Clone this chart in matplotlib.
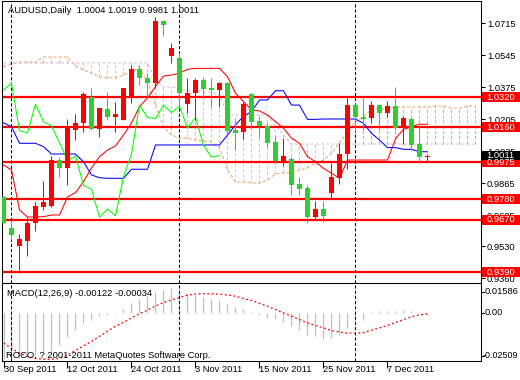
import matplotlib
matplotlib.use("Agg")
import matplotlib.pyplot as plt
import matplotlib.transforms as mtransforms
from matplotlib.patches import Rectangle
import numpy as np

plt.rcParams['font.family'] = ['Liberation Sans', 'DejaVu Sans']

# ---------------- data ----------------
symbol = "AUDUSD,Daily"
opens = [0.9792, 0.9624, 0.9530, 0.9559, 0.9654, 0.9739, 0.9743, 0.9987, 0.9946, 1.0147,
         1.0185, 1.0320, 1.0150, 1.0258, 1.0217, 1.0200, 1.0327, 1.0469, 1.0421, 1.0395,
         1.0726, 1.0541, 1.0528, 1.0285, 1.0342, 1.0412, 1.0371, 1.0359, 1.0398, 1.0147,
         1.0138, 1.0338, 1.0194, 1.0169, 1.0081, 0.9984, 0.9991, 0.9860, 0.9837, 0.9686,
         0.9727, 0.9814, 0.9893, 1.0019, 1.0279, 1.0217, 1.0209, 1.0279, 1.0239, 1.0274,
         1.0156, 1.0205, 1.0071, 1.0004]
highs = [0.9796, 0.9668, 0.9594, 0.9686, 0.9766, 0.9876, 1.0008, 1.0005, 1.0205, 1.0232,
         1.0350, 1.0368, 1.0264, 1.0350, 1.0297, 1.0370, 1.0492, 1.0492, 1.0448, 1.0749,
         1.0731, 1.0610, 1.0554, 1.0421, 1.0421, 1.0430, 1.0421, 1.0403, 1.0403, 1.0203,
         1.0297, 1.0341, 1.0221, 1.0185, 1.0115, 1.0103, 1.0005, 0.9895, 0.9854, 0.9771,
         0.9771, 0.9970, 1.0076, 1.0327, 1.0285, 1.0320, 1.0302, 1.0285, 1.0302, 1.0373,
         1.0221, 1.0212, 1.0168, 1.0019]
lows = [0.9652, 0.9562, 0.9388, 0.9477, 0.9612, 0.9722, 0.9740, 0.9899, 0.9854, 1.0093,
        1.0138, 1.0147, 1.0111, 1.0200, 1.0138, 1.0199, 1.0290, 1.0386, 1.0315, 1.0368,
        1.0646, 1.0501, 1.0270, 1.0235, 1.0200, 1.0315, 1.0270, 1.0270, 1.0129, 1.0040,
        1.0097, 1.0156, 1.0103, 1.0049, 0.9966, 0.9955, 0.9801, 0.9801, 0.9654, 0.9672,
        0.9659, 0.9778, 0.9858, 0.9938, 1.0143, 1.0147, 1.0185, 1.0147, 1.0217, 1.0147,
        1.0071, 1.0040, 0.9970, 0.9981]
closes = [0.9654, 0.9589, 0.9566, 0.9654, 0.9743, 0.9766, 0.9987, 0.9946, 1.0156, 1.0182,
          1.0338, 1.0150, 1.0262, 1.0217, 1.0232, 1.0368, 1.0469, 1.0421, 1.0395, 1.0727,
          1.0704, 1.0581, 1.0342, 1.0342, 1.0412, 1.0364, 1.0359, 1.0395, 1.0143, 1.0132,
          1.0283, 1.0191, 1.0168, 1.0079, 0.9984, 1.0008, 0.9854, 0.9832, 0.9683, 0.9727,
          0.9691, 0.9899, 1.0019, 1.0279, 1.0214, 1.0207, 1.0279, 1.0239, 1.0274, 1.0156,
          1.0212, 1.0067, 1.0002, 1.0011]

tenkan = [0.9961, 0.9934, 0.9722, 0.9684, 0.9684, 0.9686, 0.9695, 0.9695, 0.9791, 0.9814,
          0.9872, 0.9945, 1.0005, 1.0040, 1.0062, 1.0120, 1.0184, 1.0270, 1.0317, 1.0377,
          1.0433, 1.0439, 1.0448, 1.0469, 1.0474, 1.0474, 1.0474, 1.0474, 1.0430, 1.0342,
          1.0297, 1.0253, 1.0248, 1.0226, 1.0191, 1.0156, 1.0103, 1.0076, 1.0005, 0.9978,
          0.9943, 0.9917, 0.9890, 0.9987, 0.9987, 0.9987, 0.9987, 0.9987, 0.9987, 1.0100,
          1.0150, 1.0164, 1.0177, 1.0177]
kijun = [1.0185, 1.0164, 1.0076, 1.0076, 1.0076, 1.0058, 1.0019, 1.0019, 1.0019, 1.0019,
         0.9978, 0.9908, 0.9893, 0.9890, 0.9890, 0.9890, 0.9938, 0.9938, 0.9938, 1.0067,
         1.0067, 1.0067, 1.0067, 1.0067, 1.0067, 1.0067, 1.0067, 1.0067, 1.0120, 1.0173,
         1.0221, 1.0244, 1.0306, 1.0306, 1.0355, 1.0355, 1.0279, 1.0279, 1.0203, 1.0203,
         1.0205, 1.0205, 1.0205, 1.0205, 1.0205, 1.0182, 1.0129, 1.0093, 1.0053, 1.0053,
         1.0044, 1.0044, 1.0031, 1.0031]
senkou_a = [1.0481, 1.0497, 1.0508, 1.0508, 1.0508, 1.0534, 1.0534, 1.0534, 1.0534, 1.0487,
            1.0465, 1.0449, 1.0428, 1.0423, 1.0423, 1.0439, 1.0460, 1.0476, 1.0402, 1.0279,
            1.0163, 1.0120, 1.0104, 1.0104, 1.0093, 1.0088, 1.0083, 1.0051, 0.9934, 0.9870,
            0.9870, 0.9865, 0.9865, 0.9881, 0.9913, 0.9918, 0.9923, 0.9934, 0.9945, 0.9971,
            0.9987, 1.0024, 1.0078, 1.0136, 1.0189, 1.0216, 1.0258, 1.0258, 1.0258, 1.0269,
            1.0269, 1.0269, 1.0269, 1.0269, 1.0274, 1.0274, 1.0263, 1.0263, 1.0274, 1.0274]
senkou_b = ([1.0503] * 19 + [1.0412, 1.0375, 1.0375, 1.0370, 1.0354, 1.0354, 1.0348, 1.0348, 1.0333]
            + [1.0226] * 6 + [1.0173, 1.0120] + [1.0072] * 24)
chikou_shift = 26

levels = [1.0320, 1.0160, 0.9975, 0.9780, 0.9670, 0.9390]
price_ticks = ["1.0715", "1.0545", "1.0375", "1.0205", "1.0035", "0.9865", "0.9695", "0.9530", "0.9360"]

macd = [-0.0240, -0.0230, -0.0235, -0.0230, -0.0222, -0.0205, -0.0200, -0.0170, -0.0125, -0.0090,
        -0.0055, -0.0035, -0.0017, -0.0010, -0.0006, 0.0022, 0.0050, 0.0071, 0.0089, 0.0107,
        0.0121, 0.0129, 0.0120, 0.0105, 0.0095, 0.0082, 0.0072, 0.0065, 0.0045, 0.0030,
        0.0018, 0.0007, -0.0010, -0.0026, -0.0034, -0.0048, -0.0070, -0.0087, -0.0114, -0.0122,
        -0.0136, -0.0131, -0.0114, -0.0078, -0.0061, -0.0038, 0.0005, 0.0008, 0.0010, 0.0012,
        0.0015, 0.0008, 0.0003, -0.00122]
signal = [-0.0157, -0.0184, -0.0210, -0.0228, -0.0237, -0.0242, -0.0242, -0.0237, -0.0219, -0.0196,
          -0.0172, -0.0149, -0.0122, -0.0096, -0.0070, -0.0049, -0.0026, -0.0005, 0.0015, 0.0036,
          0.0054, 0.0068, 0.0080, 0.0093, 0.0098, 0.0100, 0.0100, 0.0098, 0.0094, 0.0087,
          0.0075, 0.0065, 0.0050, 0.0035, 0.0018, 0.0000, -0.0017, -0.0035, -0.0052, -0.0066,
          -0.0078, -0.0092, -0.0100, -0.0105, -0.0106, -0.0103, -0.0090, -0.0078, -0.0066, -0.0050,
          -0.0035, -0.0020, -0.0010, -0.00034]
macd_max, macd_min = 0.01586, -0.02509

date_bars = [0, 8, 16, 24, 32, 40, 48]
date_labels = ["30 Sep 2011", "12 Oct 2011", "24 Oct 2011", "3 Nov 2011",
               "15 Nov 2011", "25 Nov 2011", "7 Dec 2011"]
separator_bars = [1, 22, 44]

# ---------------- layout ----------------
W, H = 520, 380
FS = 6.75
fig = plt.figure(figsize=(W / 100, H / 100), dpi=100)
fig.patch.set_facecolor('white')

def rect(x0, y0, x1, y1):
    return [x0 / W, 1 - y1 / H, (x1 - x0) / W, (y1 - y0) / H]

ax = fig.add_axes(rect(2, 1, 481, 282.5))
ax2 = fig.add_axes(rect(2, 282.5, 481, 361))

o = np.array(opens); h = np.array(highs); l = np.array(lows); c = np.array(closes)
n = len(o)
x = np.arange(n)
xlim = (-0.1875, 59.6875)
ylim = (0.93364, 1.08319)
ppx = (ylim[1] - ylim[0]) / 281.5

# cloud
sa = np.array(senkou_a); sb = np.array(senkou_b)
xs = np.arange(len(sa))
cloud_cols = ['#f4a460' if a >= b else '#d8bfd8' for a, b in zip(sa, sb)]
ax.vlines(xs, np.minimum(sa, sb), np.maximum(sa, sb), colors=cloud_cols,
          linestyles=(0, (3, 2)), lw=0.75, zorder=1)
ax.plot(xs, sa, color='#f4a460', ls=(0, (3, 2)), lw=0.75, zorder=1.2)
ax.plot(xs, sb, color='#d8bfd8', ls=(0, (3, 2)), lw=0.75, zorder=1.2)

# levels
for lv in levels:
    ax.axhline(lv, color='#ff0000', lw=1.6, zorder=2)

# separators
for sbar in separator_bars:
    for a in (ax, ax2):
        a.axvline(sbar, color='black', lw=0.75, ls=(0, (3, 2)), zorder=2.2)

# ichimoku lines
ax.plot(x, tenkan, color='#ff0000', lw=0.75, zorder=3)
ax.plot(x, kijun, color='#0000ff', lw=0.75, zorder=3)
ax.plot(x[:n - chikou_shift], c[chikou_shift:], color='#00ff00', lw=0.75, zorder=3)

# candles
up = c >= o
cols = np.where(up, '#ff0000', '#32cd32')
ax.vlines(x, l, h, colors=cols, lw=0.75, zorder=4)
body_lo = np.minimum(o, c)
body_h = np.maximum(np.abs(c - o), ppx)
ax.bar(x, body_h, bottom=body_lo, width=0.625, color=cols, lw=0, zorder=5)

ax.set_xlim(*xlim)
ax.set_ylim(*ylim)
ax.set_xticks([])
ax.yaxis.tick_right()
ax.set_yticks([float(t) for t in price_ticks])
ax.set_yticklabels(price_ticks)
ax.tick_params(axis='y', length=3, width=0.75, pad=1.2, labelsize=FS, colors='black')
for s in ax.spines.values():
    s.set_linewidth(0.75)

# level labels (red boxes) and current price box
bt = mtransforms.blended_transform_factory(ax.transAxes, ax.transData)
bw = 37.5 / 479
x0b = 1 + 1 / 479
for lv in levels:
    ax.add_patch(Rectangle((x0b, lv - 5 * ppx), bw, 10 * ppx, transform=bt,
                           facecolor='#ff0000', edgecolor='none', clip_on=False, zorder=6))
    ax.text(x0b + bw / 2, lv, f"{lv:.4f}", transform=bt, ha='center', va='center',
            color='white', fontsize=FS, clip_on=False, zorder=7)
last = c[-1]
ax.add_patch(Rectangle((x0b, last - 4 * ppx), bw, 9 * ppx, transform=bt,
                       facecolor='black', edgecolor='none', clip_on=False, zorder=6))
ax.text(x0b + bw / 2, last + 0.5 * ppx, f"{last:.4f}", transform=bt, ha='center', va='center',
        color='white', fontsize=FS, clip_on=False, zorder=7)

# ---------------- MACD ----------------
mh = np.array(macd); sg = np.array(signal)
ax2.vlines(x, 0, mh, colors='#c0c0c0', lw=0.9, zorder=2)
ax2.plot(x, sg, color='#ff0000', lw=0.9, ls=(0, (1.5, 2)), zorder=3)
ax2.set_xlim(*xlim)
ax2.set_ylim(macd_min, macd_max)
ax2.set_yticks([])
ax2.set_xticks(date_bars)
ax2.set_xticklabels(date_labels, ha='left')
ax2.tick_params(axis='x', length=5, width=0.75, pad=-2.2, labelsize=FS)
for s in ax2.spines.values():
    s.set_linewidth(0.75)

t2 = ax2.transAxes
ppx2 = 1 / 78.5
for val, ypos, xoff, fs in [(macd_max, 1 - 9 * ppx2, 4, FS), (0.0, None, 4, FS),
                            (macd_min, 5 * ppx2, 1.5, FS - 0.35)]:
    if ypos is None:
        ypos = (0 - macd_min) / (macd_max - macd_min)
    txt = "0.00" if val == 0 else f"{val:.5f}"
    ax2.text(1 + xoff / 479, ypos, txt, transform=t2, ha='left', va='center', fontsize=fs, clip_on=False)
    ax2.plot([1, 1 + 3 / 479], [ypos, ypos], transform=t2, color='black', lw=0.75, clip_on=False)

# ---------------- texts ----------------
fig.text(8 / W, 1 - 10.5 / H,
         f"{symbol}  {o[-1]:.4f} {h[-1]:.4f} {l[-1]:.4f} {c[-1]:.4f}",
         ha='left', va='center', fontsize=FS, color='black')
fig.text(7 / W, 1 - 294 / H, f"MACD(12,26,9) {mh[-1]:.5f} {sg[-1]:.5f}",
         ha='left', va='center', fontsize=FS, color='black')
fig.text(6 / W, 1 - 356 / H, "ROCO, ? 2001-2011 MetaQuotes Software Corp.",
         ha='left', va='center', fontsize=FS, color='black')

fig.savefig("out.png", dpi=100, facecolor='white')
